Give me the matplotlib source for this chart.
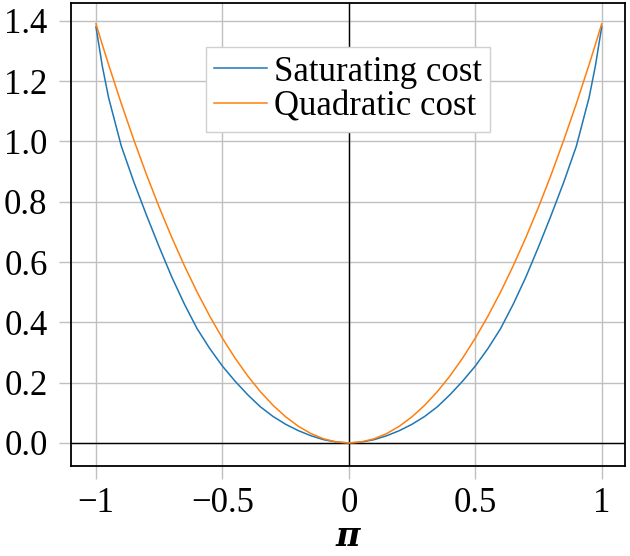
import numpy as np
import matplotlib
matplotlib.use("Agg")
import matplotlib.pyplot as plt

plt.rcParams['font.family'] = ['Liberation Serif', 'DejaVu Serif']
plt.rcParams['axes.unicode_minus'] = True

# values (right half, the curves are symmetric about 0)
x_half = [0.0, 0.05, 0.10, 0.15, 0.20, 0.25, 0.30, 0.35, 0.40, 0.45, 0.50,
          0.55, 0.60, 0.65, 0.70, 0.75, 0.80, 0.85, 0.90, 0.95, 0.975, 1.00]
saturating_half = [0.000, 0.003, 0.011, 0.024, 0.041, 0.062, 0.088, 0.120, 0.160, 0.205, 0.255,
                   0.313, 0.379, 0.460, 0.550, 0.650, 0.755, 0.865, 0.985, 1.145, 1.250, 1.380]
quadratic_half = [0.000, 0.0035, 0.0139, 0.0313, 0.0556, 0.0869, 0.1251, 0.1703, 0.2224, 0.2815, 0.3475,
                  0.4205, 0.5004, 0.5873, 0.6811, 0.7819, 0.8896, 1.0043, 1.1259, 1.2545, 1.3212, 1.390]

x = np.concatenate([-np.array(x_half[:0:-1]), np.array(x_half)])
saturating = np.concatenate([np.array(saturating_half[:0:-1]), np.array(saturating_half)])
quadratic = np.concatenate([np.array(quadratic_half[:0:-1]), np.array(quadratic_half)])

xticks = [-1, -0.5, 0, 0.5, 1]
xticklabels = ['\u22121', '\u22120.5', '0', '0.5', '1']
yticks = [0.0, 0.2, 0.4, 0.6, 0.8, 1.0, 1.2, 1.4]

fig = plt.figure(figsize=(6.3, 5.56), dpi=100)
ax = fig.add_axes([0.113, 0.161, 0.879, 0.833])

ax.plot(x, saturating, color='#1f77b4', lw=1.1, label='Saturating cost', zorder=3)
ax.plot(x, quadratic, color='#ff7f0e', lw=1.1, label='Quadratic cost', zorder=3)

ax.axhline(0, color='black', lw=1.0, zorder=2)
ax.axvline(0, color='black', lw=1.0, zorder=2)

ax.set_xlim(-1.098, 1.092)
ax.set_ylim(-0.078, 1.458)
ax.set_xticks(xticks)
ax.set_xticklabels(xticklabels)
ax.set_yticks(yticks)
ax.set_yticklabels([f'{v:.1f}' for v in yticks])
ax.grid(True, color='#c0c0c0', lw=1.0, zorder=0)
ax.tick_params(direction='out', length=9, width=1.0, color='#c0c0c0',
               labelsize=25)
ax.tick_params(axis='y', pad=8)
ax.tick_params(axis='x', pad=6)
for s in ax.spines.values():
    s.set_color('black')
    s.set_linewidth(1.3)

ax.set_xlabel('\u03c0', fontsize=24, fontweight='bold', fontstyle='italic',
              family='DejaVu Serif', labelpad=0)

leg = ax.legend(loc='upper center', bbox_to_anchor=(0.5, 0.906), borderaxespad=0,
                fontsize=25, fancybox=False, framealpha=1, edgecolor='#d0d0d0',
                handlelength=1.5, handletextpad=0.2, labelspacing=0.05,
                borderpad=0.25)

fig.savefig('out.png', dpi=100)
